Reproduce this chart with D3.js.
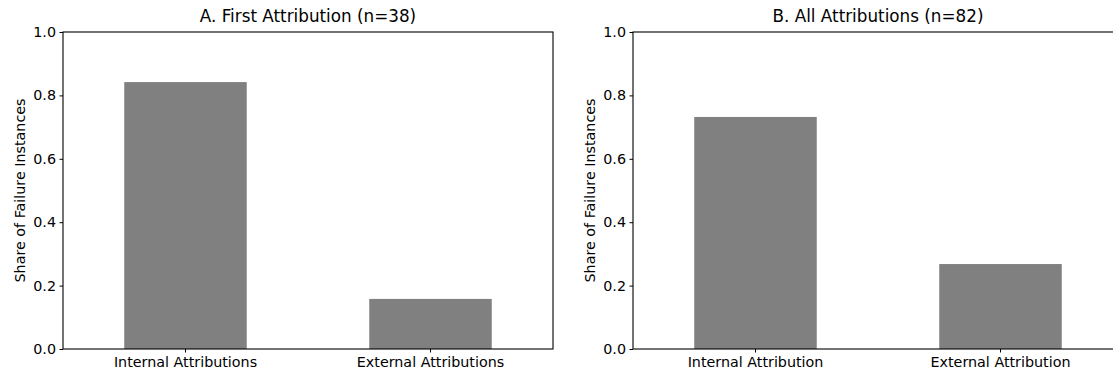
<!DOCTYPE html>
<html lang="en">
<head>
<meta charset="UTF-8">
<title>Failure attributions</title>
<script src="https://cdnjs.cloudflare.com/ajax/libs/d3/7.8.0/d3.min.js"></script>
<style>
  body { margin: 0; background: #fff; }
  svg { display: block; font-family: "DejaVu Sans", sans-serif; }
</style>
</head>
<body>
<svg id="viz" width="1113" height="373"></svg>
<script>
// data
const titles = ["A. First Attribution (n=38)", "B. All Attributions (n=82)"];
const categoriesA = ["Internal Attributions", "External Attributions"];
const categoriesB = ["Internal Attribution", "External Attribution"];
const valuesA = [0.842, 0.158];
const valuesB = [0.732, 0.268];
const yTicks = [0, 0.2, 0.4, 0.6, 0.8, 1.0];
const yLabel = "Share of Failure Instances";

const panels = [
  {title: titles[0], cats: categoriesA, vals: valuesA, left: 63},
  {title: titles[1], cats: categoriesB, vals: valuesB, left: 633}
];

const svg = d3.select("#viz");
const plotTop = 32, plotBottom = 349, w = 490;
const tickFont = 14.3, titleFont = 16.8;

const y = d3.scaleLinear().domain([0, 1]).range([plotBottom, plotTop]);

panels.forEach(p => {
  const g = svg.append("g").attr("transform", "translate(" + p.left + ",0)");

  // pandas style: bar width 0.5 within a band of 1
  const x = d3.scaleBand().domain(p.cats).range([0, w]).paddingInner(0.5).paddingOuter(0.25);

  g.selectAll("rect").data(p.cats).enter().append("rect")
    .attr("x", d => x(d))
    .attr("width", x.bandwidth())
    .attr("y", (d, i) => y(p.vals[i]))
    .attr("height", (d, i) => plotBottom - y(p.vals[i]))
    .attr("fill", "#808080");

  const yAxis = g.append("g")
    .call(d3.axisLeft(y).tickValues(yTicks).tickFormat(d3.format(".1f")).tickSize(3.5).tickPadding(3.5));
  const xAxis = g.append("g").attr("transform", "translate(0," + plotBottom + ")")
    .call(d3.axisBottom(x).tickSize(3.5).tickPadding(4));

  [yAxis, xAxis].forEach(a => {
    a.attr("font-size", tickFont).attr("font-family", "DejaVu Sans");
    a.select(".domain").remove();
    a.selectAll("line").attr("stroke", "#000").attr("stroke-width", 1);
    a.selectAll("text").attr("fill", "#000");
  });

  // frame
  g.append("rect")
    .attr("x", 0).attr("y", plotTop)
    .attr("width", w).attr("height", plotBottom - plotTop)
    .attr("fill", "none").attr("stroke", "#000").attr("stroke-width", 1.1);

  g.append("text")
    .attr("x", w / 2).attr("y", 22)
    .attr("text-anchor", "middle")
    .attr("font-size", titleFont)
    .attr("fill", "#000")
    .text(p.title);

  g.append("text")
    .attr("transform", "translate(-38," + (plotTop + plotBottom) / 2 + ") rotate(-90)")
    .attr("text-anchor", "middle")
    .attr("font-size", tickFont)
    .attr("fill", "#000")
    .text(yLabel);
});
</script>
</body>
</html>
